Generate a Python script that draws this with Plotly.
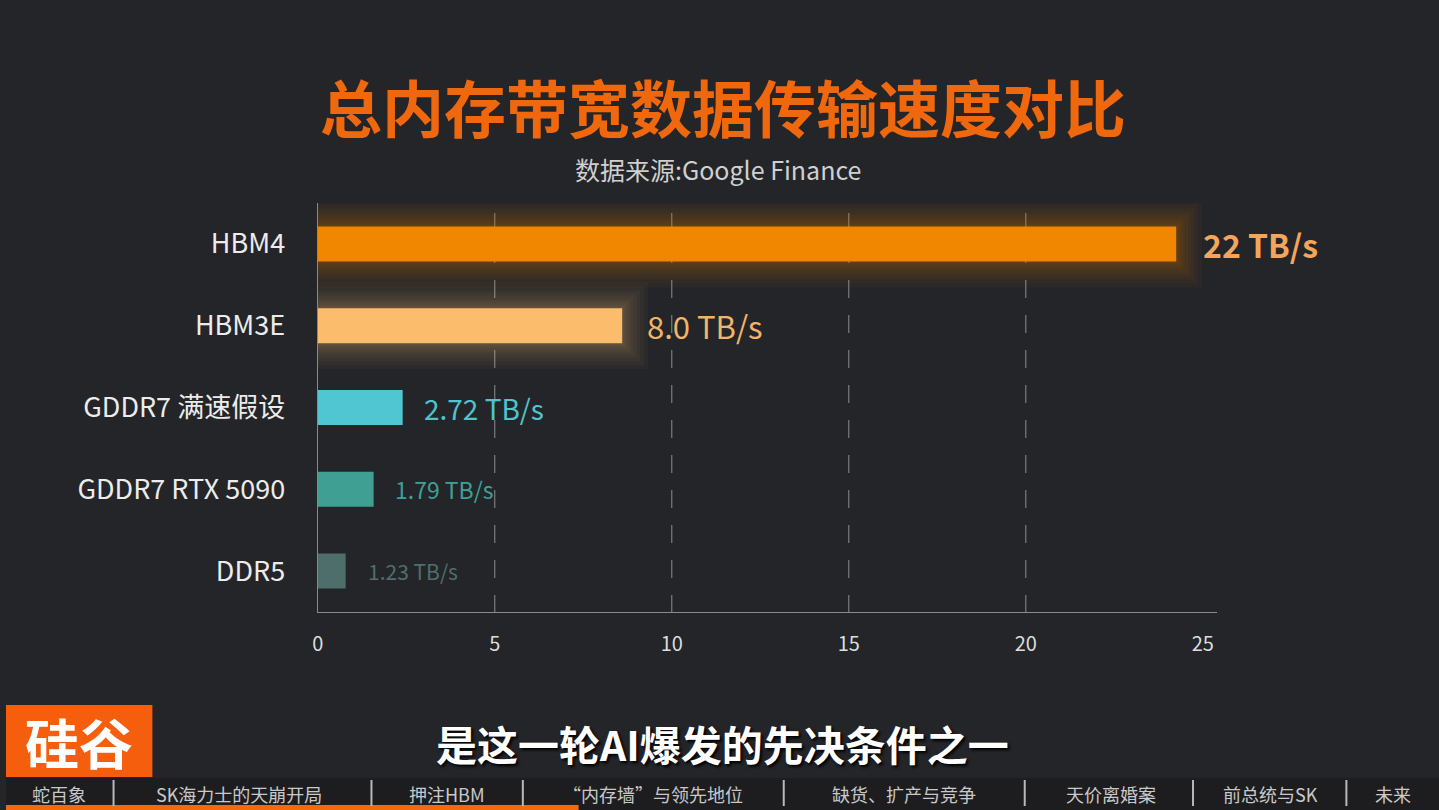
import plotly.graph_objects as go

# ---------------- data ----------------
categories = ["HBM4", "HBM3E", "GDDR7 满速假设", "GDDR7 RTX 5090", "DDR5"]
bar_lengths = [24.25, 8.6, 2.4, 1.58, 0.79]
value_labels = ["22 TB/s", "8.0 TB/s", "2.72 TB/s", "1.79 TB/s", "1.23 TB/s"]
x_ticks = [0, 5, 10, 15, 20, 25]
grid_ticks = [5, 10, 15, 20]
chapters = ["蛇百象", "SK海力士的天崩开局", "押注HBM", "“内存墙”与领先地位",
            "缺货、扩产与竞争", "天价离婚案", "前总统与SK", "未来"]

title_text = "总内存带宽数据传输速度对比"
subtitle_text = "数据来源:Google Finance"
caption_text = "是这一轮AI爆发的先决条件之一"

# ---------------- styles ----------------
W, H = 1439, 810
BG = "#242529"
bar_colors = ["#f18600", "#fbbd6c", "#4fc6d1", "#3f9f93", "#4e6e6b"]
label_colors = ["#f4a55a", "#f2b468", "#4fc3ce", "#40a095", "#4f6f6c"]
label_sizes = [32, 31, 28, 23, 21]
label_bold = [True, False, False, False, False]
label_shift = [25, 23, 19, 19, 20]
glow_rgb = [(241, 134, 0), (251, 189, 108)]
glow_alpha = [0.04, 0.035]
FONT = "Noto Sans CJK SC"

def py(px):
    return 1 - px / H

def pxx(px):
    return px / W

fig = go.Figure()

# soft glow layers behind the two HBM bars
ppu = 888.8 / 25.0  # px per unit on x
cat_px = 81.8
glow_steps = [26, 22, 18, 15, 12, 9, 7, 5, 3, 1.5]
for step in glow_steps:
    for i in range(2):
        ext = step / ppu
        r, g, b = glow_rgb[i]
        fig.add_trace(go.Bar(
            y=[categories[i]], x=[bar_lengths[i] + 2 * ext], base=[-ext],
            orientation="h", width=[(35 + 2 * step) / cat_px],
            marker=dict(color=f"rgba({r},{g},{b},{glow_alpha[i]})",
                        line=dict(width=0)),
            hoverinfo="skip", showlegend=False, cliponaxis=False,
        ))

# main bars
fig.add_trace(go.Bar(
    y=categories, x=bar_lengths, orientation="h", width=35 / cat_px,
    marker=dict(color=bar_colors, line=dict(width=0)),
    showlegend=False, hoverinfo="skip",
))

# value labels
for cat, v, t, c, s, sh, bd in zip(categories, bar_lengths, value_labels,
                                  label_colors, label_sizes, label_shift,
                                  label_bold):
    fig.add_annotation(x=v, y=cat, xref="x", yref="y",
                       text=f"<b>{t}</b>" if bd else t, showarrow=False,
                       xanchor="left", yanchor="middle", xshift=sh, yshift=0,
                       font=dict(family=FONT, size=s, color=c))

shapes = []
# dashed vertical gridlines
for gx in grid_ticks:
    shapes.append(dict(type="line", xref="x", yref="paper", x0=gx, x1=gx,
                       y0=py(613), y1=py(213), layer="below",
                       line=dict(color="#74757a", width=1.3, dash="18px,17px")))

# bottom chapter bar
shapes.append(dict(type="rect", xref="paper", yref="paper", x0=0, x1=1,
                   y0=0, y1=py(778), fillcolor="#1d1d20", line=dict(width=0),
                   layer="below"))
# progress line
shapes.append(dict(type="rect", xref="paper", yref="paper", x0=0, x1=pxx(575),
                   y0=0, y1=py(805), fillcolor="#f26a0c", line=dict(width=0)))
# separators
sep_x = [108, 367, 519, 781, 1023, 1192, 1346]
for sx in sep_x:
    shapes.append(dict(type="line", xref="paper", yref="paper",
                       x0=pxx(sx), x1=pxx(sx), y0=py(806), y1=py(780),
                       line=dict(color="#b9b9b9", width=2)))
# logo box
shapes.append(dict(type="rect", xref="paper", yref="paper", x0=0, x1=pxx(147),
                   y0=py(777), y1=py(705), fillcolor="#f55e0c",
                   line=dict(width=0)))

chap_x = [53, 234, 443, 650, 902, 1110, 1270, 1393]
for cx, ct in zip(chap_x, chapters):
    fig.add_annotation(x=pxx(cx), y=py(794), xref="paper", yref="paper",
                       text=ct, showarrow=False, xanchor="center",
                       yanchor="middle",
                       font=dict(family=FONT, size=18, color="#c9c9c9"))

# logo text
fig.add_annotation(x=pxx(73), y=py(741), xref="paper", yref="paper",
                   text="<b>硅谷</b>", showarrow=False, xanchor="center",
                   yanchor="middle",
                   font=dict(family=FONT, size=54, color="#ffffff"))

# title, subtitle, caption
fig.add_annotation(x=pxx(720), y=py(106), xref="paper", yref="paper",
                   text=f"<b>{title_text}</b>", showarrow=False,
                   xanchor="center", yanchor="middle",
                   font=dict(family=FONT, size=62, color="#f0680e"))
fig.add_annotation(x=pxx(715), y=py(169), xref="paper", yref="paper",
                   text=subtitle_text, showarrow=False, xanchor="center",
                   yanchor="middle",
                   font=dict(family=FONT, size=25, color="#d0d0d0"))
fig.add_annotation(x=pxx(720), y=py(743), xref="paper", yref="paper",
                   text=f"<b>{caption_text}</b>", showarrow=False,
                   xanchor="center", yanchor="middle",
                   font=dict(family=FONT, size=41, color="#ffffff",
                             shadow="2px 2px 3px #000000"))

fig.update_layout(
    width=W, height=H,
    margin=dict(l=0, r=0, t=0, b=0),
    paper_bgcolor=BG, plot_bgcolor=BG,
    barmode="overlay",
    shapes=shapes,
    showlegend=False,
    xaxis=dict(domain=[pxx(313), pxx(1216)], range=[0, 25.4],
               tickvals=x_ticks, ticktext=[str(t) for t in x_ticks],
               showgrid=False, zeroline=False, showline=True,
               linecolor="#8a8a8e", linewidth=1.3, ticks="",
               ticklabelstandoff=14,
               tickfont=dict(family=FONT, size=20, color="#dedede"),
               fixedrange=True),
    yaxis=dict(domain=[py(612), py(203)], categoryorder="array",
               categoryarray=categories, range=[4.5, -0.5],
               autorange=False,
               showgrid=False, zeroline=False, showline=True,
               linecolor="#8a8a8e", linewidth=1.3, ticks="",
               ticklabelstandoff=26,
               tickfont=dict(family=FONT, size=27, color="#ececec"),
               fixedrange=True),
)

fig.write_html("out.html")
